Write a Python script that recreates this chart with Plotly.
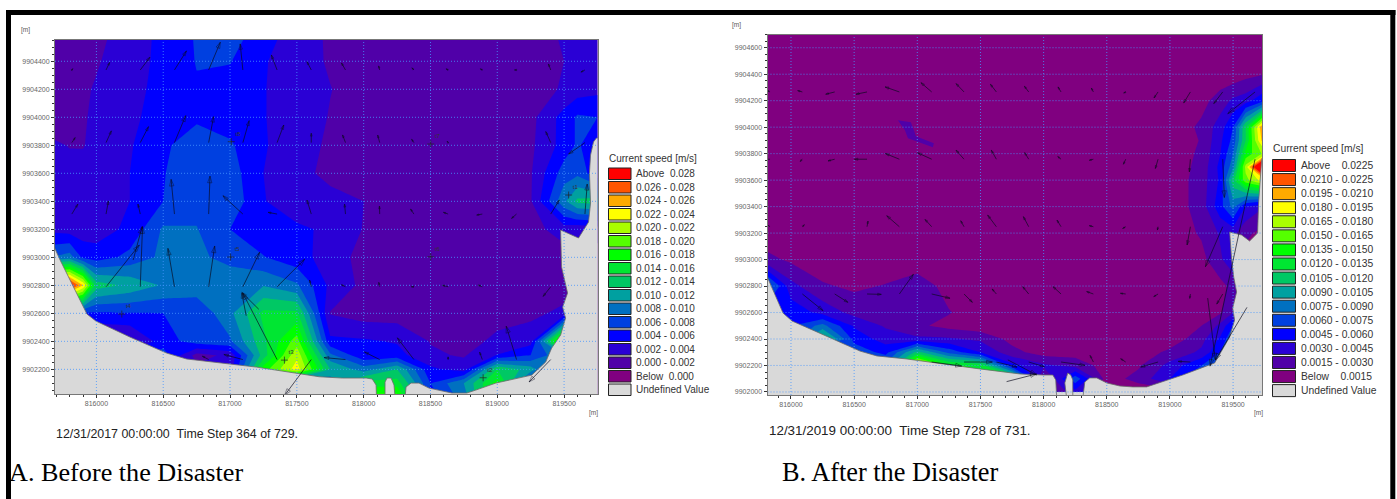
import numpy as np
import plotly.graph_objects as go

W, H = 1397, 499

# ---------- Panel A: speed grid, in 0.001 m/s ----------
a_x = [815650, 815800, 815900, 816000, 816250, 816500, 816750, 817000, 817250, 817500,
       817750, 818000, 818250, 818500, 818750, 819000, 819250, 819500, 819600, 819750]
a_y = [9902000, 9902100, 9902200, 9902300, 9902400, 9902600, 9902800, 9903000,
       9903200, 9903400, 9903600, 9903800, 9904000, 9904200, 9904400, 9904600]
a_z = [
    [5, 5, 5, 5, 5, 5, 5, 5, 5, 5, 5, 19, 19, 5, 9, 18, 5, 1, 1, 1],
    [5, 5, 5, 5, 5, 5, 5, 5, 5, 5, 8, 15, 15, 6, 10, 17, 5, 1, 1, 1],
    [5, 5, 5, 5, 5, 5, 2.5, 2.5, 17, 23, 12, 9, 12, 4.5, 3, 14, 11, 5, 1, 1],
    [5, 5, 5, 5, 5, 7, 1.2, 2.5, 13, 21.5, 8.5, 4.5, 4.8, 2.3, 1.8, 4.1, 6, 10, 1, 1],
    [1, 1, 1, 1, 1.5, 5, 7, 7.7, 13.5, 19, 4.5, 4.3, 3.8, 1.9, 1, 2.6, 3.2, 22, 1, 1],
    [5, 5, 5.5, 5.7, 5.9, 6, 6.4, 9.5, 14.5, 14.5, 1.9, 1, 1, 1, 1, 1, 1.5, 2.5, 1, 1],
    [30, 30, 24, 13, 11.5, 9.8, 9.2, 9.3, 9.9, 8.3, 3.5, 1.5, 1, 1, 1, 1, 1, 1, 1, 1],
    [8, 9, 5.5, 5, 6.6, 8.5, 8.4, 7.4, 6.1, 4.7, 3.2, 1.2, 1, 1, 1, 1, 1, 1, 1, 1],
    [3.5, 3, 2.9, 3, 4.5, 8.3, 8.1, 6, 4.8, 4.3, 3.7, 1.9, 1, 1, 1, 1, 1.2, 3, 2.5, 3],
    [3.5, 2.8, 2.7, 2.8, 4, 6, 7.3, 7.4, 4.1, 3, 2.6, 2, 1, 1, 1, 1.2, 1.8, 9.5, 12.5, 13],
    [4.2, 2.8, 2.7, 2.8, 4, 5.9, 7.2, 7, 4, 2.6, 1.5, 1, 1, 1, 1, 1.1, 1.8, 7, 7.5, 4.5],
    [2.4, 1.9, 1.9, 2.6, 3.8, 5.7, 6.9, 6.3, 4.2, 2.8, 1.7, 1.1, 1, 1, 1, 1, 1.6, 4.8, 6.3, 4.5],
    [1, 1.5, 1.8, 2.4, 3.4, 5.2, 5.7, 5, 4.1, 3, 1.9, 1.2, 1, 1, 1, 1, 1.4, 4.8, 6.3, 6],
    [1, 1.3, 1.7, 2.2, 3.3, 4.7, 5.8, 5.2, 4.1, 3, 2.05, 1.3, 1, 1, 1, 1, 1.2, 2.2, 3, 3.5],
    [1, 1, 1.3, 1.8, 3.2, 4.5, 6.1, 6.1, 4.2, 2.8, 1.8, 1, 1, 1, 1, 1, 1.2, 2, 2.4, 3],
    [1, 1, 1.2, 1.4, 3, 4.5, 6.2, 7, 5, 3, 1.7, 1, 1, 1, 1, 1, 1, 2.3, 2.6, 3.5],
]

a_land_x = [815650, 815650, 815728, 815929, 815996, 816250, 816526, 816675, 817198, 817668,
            817840, 818019, 818064, 818093, 818096, 818160, 818160, 818175, 818205, 818227,
            818235, 818310, 818317, 818355, 818414, 818489, 818660, 818772, 818839, 818989,
            819258, 819362, 819407, 819474, 819511, 819489, 819526, 819481, 819474, 819608,
            819683, 819698, 819690, 819698, 819720, 819742, 819800, 819800]
a_land_y = [9901950, 9903145, 9902981, 9902595, 9902545, 9902431, 9902316, 9902274, 9902216, 9902147,
            9902138, 9902138, 9902131, 9902088, 9902000, 9902000, 9902109, 9902138, 9902138, 9902088,
            9902000, 9902000, 9902074, 9902102, 9902102, 9902066, 9902031, 9902031, 9902052, 9902102,
            9902159, 9902252, 9902352, 9902445, 9902566, 9902645, 9902745, 9902931, 9903195, 9903138,
            9903252, 9903388, 9903602, 9903731, 9903824, 9903852, 9903852, 9901950]

# current vectors of panel A: regular mesh, (east, north) per row
a_arrow_x = [815816 + 256 * k for k in range(16)]
a_arrow_y = [9904338, 9903819, 9903309, 9902790, 9902270]
a_u = [
    [7, 27, 72, 90, 87, -20, -43, -32, -30, -8, -15, -15, -15, -15, -17, -30],
    [25, 40, 62, 84, 37, 47, 50, 0, -22, -15, -17, -7, 0, 0, -37, -122],
    [45, 18, -17, -25, 10, -149, -67, -32, -7, -2, -25, -35, -42, -37, 64, 17],
    [0, 249, 17, -49, 45, 125, 206, -13, -30, -7, -19, -42, -30, 0, -57, 0],
    [0, 0, 0, 0, -47, -142, -257, -199, -160, -114, -124, 0, -20, -77, -162, 0],
]
a_v = [
    [9, 54, 91, 136, 198, 186, 107, 59, 50, 29, 15, 8, 8, 0, 43, -15],
    [36, 84, 114, 193, 186, 157, 126, 67, 55, 54, 24, 10, 0, 0, 79, -81],
    [71, 93, 71, 248, 271, 131, 12, 100, 71, 57, 36, 12, -7, -31, 100, 214],
    [0, 298, 429, 274, 291, 246, 196, 48, 14, 31, 0, 10, 12, 0, -69, 0],
    [0, 0, 0, 0, 24, 36, 476, -255, 14, 54, 155, 19, 53, 238, -160, 0],
]
a_extra_x = [817121, 817215, 816275]
a_extra_y = [9902583, 9902629, 9902981]
a_extra_u = [-33, -127, 67]
a_extra_v = [160, 120, 238]

a_station_names = ["t1", "t2", "t3", "t4", "t5", "t6", "t7", "t8"]
a_station_x = [819534, 818894, 817407, 816190, 817004, 818502, 818502, 817009]
a_station_y = [9903445, 9902140, 9902266, 9902595, 9903002, 9903004, 9903809, 9903826]

# ---------- Panel B: speed grid, in 0.001 m/s ----------
b_x = [815800, 816000, 816250, 816500, 816750, 817000, 817250, 817500, 817750, 818000,
       818250, 818500, 818750, 819000, 819250, 819400, 819500, 819600, 819750]
b_y = [9902000, 9902100, 9902200, 9902300, 9902400, 9902500, 9902600, 9902800, 9903000, 9903200,
       9903400, 9903600, 9903700, 9903800, 9903900, 9904000, 9904200, 9904400, 9904600, 9904800]
b_z = [
    [.5, .5, .5, .5, .5, .5, .5, .5, .5, .5, 4, .5, .5, .5, .5, .5, .5, .5, .5],
    [5, 5, 5, 5, 5, 5, 14, 14, 14, 1, 7, .8, 2, 4.5, 8, 8, 1, 1, 1],
    [5, 5, 5, 5, 8, 20, 14, 13, 5, 3.3, 2.5, .8, 1.3, 3.5, 6, 7, 1, 1, 1],
    [5, 5, 5, 7, 5.5, 11, 7, 4.5, 2, .8, .8, .5, .5, 1.9, 3.3, 6, 7, 1, 1],
    [5, 6, 12, 5.5, 3.8, 3.3, 3.2, 2.7, 1, .5, .5, .5, .5, .5, 2.5, 4.8, 7.5, 1, 1],
    [5, 6, 8, 4.3, 2.8, 1.8, 1, .5, .5, .5, .5, .5, .5, .5, 1.5, 3.4, 6, 1, 1],
    [5, 5.5, 4, 2.5, 2.2, 2.2, 1.6, .7, .5, .5, .5, .5, .5, .5, .5, 1.3, 3, 1, 1],
    [9, 3.5, 1.7, 1.2, 1.6, 2.4, .9, .5, .5, .5, .5, .5, .5, .5, .5, 1, 2, 1, 1],
    [2, 1.2, .5, .5, .5, .5, .5, .5, .5, .5, .5, .5, .5, .5, 1, 2.8, 4, 1, 1],
    [.5, .5, .5, .5, .5, .5, .5, .5, .5, .5, .5, .5, .5, .5, 1.7, 3.2, 3.5, 1.8, 1],
    [.5, .5, .5, .5, .5, .5, .5, .5, .5, .5, .5, .5, .5, .5, 2.2, 5.5, 8, 4.5, 3],
    [.5, .5, .5, .5, .5, .5, .5, .5, .5, .5, .5, .5, .5, .5, 2.2, 4.8, 11.5, 16, 19],
    [.5, .5, .5, .5, .5, .5, .5, .5, .5, .5, .5, .5, .5, .5, 2, 5, 8.5, 17, 30],
    [.5, .5, .5, .5, .5, .5, .5, .5, .5, .5, .5, .5, .5, .5, 1.8, 4.5, 7.5, 14, 17],
    [.5, .5, .5, .5, .5, .5, .5, .5, .5, .5, .5, .5, .5, .5, 1.6, 4.2, 6.5, 12, 21],
    [.5, .5, .5, .5, .5, .5, .5, .5, .5, .5, .5, .5, .5, .5, 1.8, 3.8, 6, 12, 22],
    [.5, .5, .5, .5, .5, .5, .5, .5, .5, .5, .5, .5, .5, .5, 1, 2.2, 3.3, 3.8, 6],
    [.5, .5, .5, .5, .5, .5, .5, .5, .5, .5, .5, .5, .5, .5, .5, .5, .5, 1, 1.5],
    [.5, .5, .5, .5, .5, .5, .5, .5, .5, .5, .5, .5, .5, .5, .5, .5, .5, .5, .5],
    [.5, .5, .5, .5, .5, .5, .5, .5, .5, .5, .5, .5, .5, .5, .5, .5, .5, .5, .5],
]

b_land_x = [815700, 815816, 815937, 816008, 816206, 816546, 816680, 816918, 817495, 817812,
            817994, 818073, 818096, 818104, 818183, 818168, 818191, 818215, 818231, 818231,
            818310, 818326, 818365, 818421, 818500, 818603, 818706, 818816, 819101, 819354,
            819473, 819512, 819497, 819528, 819505, 819489, 819473, 819568, 819631, 819694,
            819702, 819726, 819750, 819800, 819800, 815700]
b_land_y = [9902860, 9902860, 9902596, 9902536, 9902453, 9902309, 9902272, 9902249, 9902174, 9902136,
            9902128, 9902128, 9902091, 9901950, 9901950, 9902068, 9902143, 9902128, 9902091, 9901950,
            9901950, 9902075, 9902106, 9902106, 9902068, 9902045, 9902038, 9902038, 9902128, 9902219,
            9902415, 9902543, 9902634, 9902755, 9902868, 9902996, 9903208, 9903185, 9903140, 9903200,
            9903426, 9903751, 9903826, 9903826, 9901900, 9901900]

b_patch_x = [816846, 816949, 816973, 816989, 817131, 817123, 816926, 816902]
b_patch_y = [9904053, 9904038, 9903977, 9903932, 9903879, 9903849, 9903917, 9903977]

b_arrow_x = [815834 + 256 * k for k in range(16)]
b_arrow_y = [9904266, 9903758, 9903248, 9902740, 9902226]
b_u = [
    [-26, -37, -71, -87, -113, -85, -63, -47, -34, -24, -16, -16, -32, -53, -71, -216],
    [-47, -18, -53, -100, -111, -111, -63, -40, -32, -26, -32, -18, -21, -8, 13, -356],
    [-40, 16, 0, 8, -100, -53, -26, -69, -42, -32, -32, -24, -5, -26, -137, 0],
    [0, 164, 105, 113, 111, 145, 66, -34, -47, -63, -53, -42, -34, -5, -47, 0],
    [0, 0, 0, 0, 0, 237, 224, 164, 124, 190, -26, -40, -137, -97, 0, 0],
]
b_v = [
    [13, 10, -17, -17, 38, 70, 63, 58, 43, 38, 30, -8, -45, -83, -88, -164],
    [0, -17, -13, 0, 43, 48, 68, 68, 50, 20, -8, -38, -70, -96, -289, -1563],
    [30, 15, 0, 43, 83, 55, 45, 88, 76, 50, 8, -13, -25, -138, -302, 0],
    [0, -126, -63, -3, 149, -32, -63, 38, 55, 55, 18, 5, -20, -33, -76, 0],
    [0, 0, 0, 0, 0, -30, 0, -38, -35, -25, 50, 25, -38, 5, 0, 0],
]
b_extra_x = [819610, 819299, 817707, 817717]
b_extra_y = [9902639, 9902709, 9902078, 9902242]
b_extra_u = [-250, 61, 237, 227]
b_extra_v = [-398, -467, 58, -113]

# ---------- Legends ----------
band_colors = ["#800080", "#5000A8", "#2A00D5", "#0000FF", "#0040E0", "#0070C0", "#00A0A0", "#00C864",
               "#00E632", "#00FF00", "#55FF00", "#AAFF00", "#FFFF00", "#FFAA00", "#FF5500", "#FF0000"]
a_labels = ["Above\u00a0\u00a00.028", "0.026 - 0.028", "0.024 - 0.026", "0.022 - 0.024", "0.020 - 0.022",
            "0.018 - 0.020", "0.016 - 0.018", "0.014 - 0.016", "0.012 - 0.014", "0.010 - 0.012",
            "0.008 - 0.010", "0.006 - 0.008", "0.004 - 0.006", "0.002 - 0.004", "0.000 - 0.002",
            "Below\u00a0\u00a00.000", "Undefined Value"]
b_labels = ["Above\u00a0\u00a0\u00a0\u00a00.0225", "0.0210 - 0.0225", "0.0195 - 0.0210", "0.0180 - 0.0195", "0.0165 - 0.0180",
            "0.0150 - 0.0165", "0.0135 - 0.0150", "0.0120 - 0.0135", "0.0105 - 0.0120", "0.0090 - 0.0105",
            "0.0075 - 0.0090", "0.0060 - 0.0075", "0.0045 - 0.0060", "0.0030 - 0.0045", "0.0015 - 0.0030",
            "Below\u00a0\u00a0\u00a0\u00a00.0015", "Undefined Value"]
LAND = "#D9D9D9"
ARROW = "rgba(10,10,30,0.85)"


def step_scale(colors):
    n = len(colors)
    out = []
    for i, c in enumerate(colors):
        out.append([i / n, c])
        out.append([(i + 1) / n, c])
    return out


def px(x):
    return x / W


def py(y):
    return 1 - y / H


def grid_lines(ticks, lo, hi):
    a, b = [], []
    for t in ticks:
        a += [t, t, None]
        b += [lo, hi, None]
    return a, b


def arrow_xy(xs, ys, us, vs, ex, ey, eu, ev, mx, my):
    X, Y, S = [], [], []
    def add(x, y, u, v):
        if u == 0 and v == 0:
            return
        X.extend([x, x + u, None])
        Y.extend([y, y + v, None])
        length = ((u / mx) ** 2 + (v / my) ** 2) ** 0.5
        S.extend([0, float(np.clip(1.5 + 0.16 * length, 2.2, 7)), 0])
    for j, y in enumerate(ys):
        for i, x in enumerate(xs):
            add(x, y, us[j][i], vs[j][i])
    for x, y, u, v in zip(ex, ey, eu, ev):
        add(x, y, u, v)
    return X, Y, S


fig = go.Figure()

panels = [
    dict(xa="x", ya="y", x=a_x, y=a_y, z=a_z, start=0, end=28, size=2, zmin=-2, zmax=30,
         lx=a_land_x, ly=a_land_y, xr=[815690, 819750], yr=[9902024, 9904552],
         xt=list(range(816000, 820000, 500)), yt=list(range(9902200, 9904600, 200)),
         arrows=arrow_xy(a_arrow_x, a_arrow_y, a_u, a_v, a_extra_x, a_extra_y, a_extra_u, a_extra_v, 7.463, 7.143)),
    dict(xa="x2", ya="y2", x=b_x, y=b_y, z=b_z, start=1.5, end=22.5, size=1.5, zmin=0, zmax=24,
         lx=b_land_x, ly=b_land_y, xr=[815814, 819729], yr=[9901977, 9904700],
         xt=list(range(816000, 820000, 500)), yt=list(range(9902000, 9904800, 200)),
         arrows=arrow_xy(b_arrow_x, b_arrow_y, b_u, b_v, b_extra_x, b_extra_y, b_extra_u, b_extra_v, 7.911, 7.547)),
]

for p in panels:
    fig.add_trace(go.Contour(
        x=p["x"], y=p["y"], z=p["z"], xaxis=p["xa"], yaxis=p["ya"],
        zmin=p["zmin"], zmax=p["zmax"], colorscale=step_scale(band_colors), showscale=False,
        contours=dict(start=p["start"], end=p["end"], size=p["size"], coloring="fill", showlines=False),
        line=dict(width=0, smoothing=0), hoverinfo="skip"))
    if p["xa"] == "x2":
        fig.add_trace(go.Scatter(x=b_patch_x, y=b_patch_y, xaxis="x2", yaxis="y2", mode="lines", fill="toself",
                                 fillcolor=band_colors[1], line=dict(width=0), showlegend=False, hoverinfo="skip"))
    fig.add_trace(go.Scatter(x=p["lx"], y=p["ly"], xaxis=p["xa"], yaxis=p["ya"], mode="lines", fill="toself",
                             fillcolor=LAND, line=dict(color="#6a6a6a", width=0.8),
                             showlegend=False, hoverinfo="skip"))
    for ticks, other, is_x in ((p["xt"], p["yr"], True), (p["yt"], p["xr"], False)):
        a, b = grid_lines(ticks, other[0], other[1])
        gx, gy = (a, b) if is_x else (b, a)
        fig.add_trace(go.Scatter(x=gx, y=gy, xaxis=p["xa"], yaxis=p["ya"], mode="lines",
                                 line=dict(color="rgba(70,150,255,0.8)", width=1, dash="1px,2px"),
                                 showlegend=False, hoverinfo="skip"))
    X, Y, S = p["arrows"]
    fig.add_trace(go.Scatter(x=X, y=Y, xaxis=p["xa"], yaxis=p["ya"], mode="lines+markers",
                             line=dict(color=ARROW, width=0.8),
                             marker=dict(symbol="arrow-open", size=S, angleref="previous",
                                         color=ARROW, line=dict(color=ARROW, width=0.7)),
                             showlegend=False, hoverinfo="skip"))

fig.add_trace(go.Scatter(x=a_station_x, y=a_station_y, text=a_station_names, mode="markers+text",
                         textposition="top right", textfont=dict(size=6, color="#333", family="Liberation Sans"),
                         marker=dict(symbol="cross-thin", size=5, line=dict(color="#222", width=0.7)),
                         showlegend=False, hoverinfo="skip"))

axis_style = dict(showgrid=False, zeroline=False, showline=True, linecolor="#777", linewidth=1, mirror=True,
                  ticks="outside", ticklen=3, tickcolor="#333", tickwidth=1, tickformat="d",
                  tickfont=dict(size=7, color="#666", family="Liberation Sans"))

shapes, notes = [], []


def legend(x0, x1, y0, dy, h, tx, tys, labels, size):
    fills = band_colors[::-1] + [LAND]
    for i, (c, lab) in enumerate(zip(fills, labels)):
        shapes.append(dict(type="rect", xref="paper", yref="paper", x0=px(x0), x1=px(x1),
                           y0=py(y0 + i * dy), y1=py(y0 + i * dy + h), fillcolor=c,
                           line=dict(color="#222", width=1)))
        notes.append(dict(xref="paper", yref="paper", x=px(tx), y=py(y0 + i * dy + h / 2), text=lab,
                          showarrow=False, xanchor="left", yanchor="middle",
                          font=dict(size=size, color="#333", family="Liberation Sans")))
    notes.append(dict(xref="paper", yref="paper", x=px(x0 - 2), y=py(tys), text="Current speed [m/s]",
                      showarrow=False, xanchor="left", yanchor="middle",
                      font=dict(size=size, color="#333", family="Liberation Sans")))


legend(608.5, 631, 168, 13.5, 11.5, 634, 158, a_labels, 10)
legend(1272.5, 1295.5, 159.5, 14.07, 12, 1299, 149, b_labels, 10.3)


def note(x, y, text, size, family="Liberation Sans", color="#222"):
    notes.append(dict(xref="paper", yref="paper", x=px(x), y=py(y), text=text, showarrow=False,
                      xanchor="left", yanchor="middle", font=dict(size=size, color=color, family=family)))


note(19, 30, "[m]", 6.5, color="#555")
note(587, 413, "[m]", 6.5, color="#555")
note(730, 25, "[m]", 6.5, color="#555")
note(1252, 413, "[m]", 6.5, color="#555")
note(54, 434, "12/31/2017 00:00:00\u00a0\u00a0Time Step 364 of 729.", 12.4)
note(767, 430, "12/31/2019 00:00:00\u00a0\u00a0Time Step 728 of 731.", 13.4)
note(7, 472, "A. Before the Disaster", 26.2, "Liberation Serif", "#000")
note(780, 472, "B. After the Disaster", 26.3, "Liberation Serif", "#000")

for x0, y0, x1, y1 in ((6, 10, 11, 499), (6, 10, 1395.5, 15), (1390.3, 10, 1395.3, 499)):
    shapes.append(dict(type="rect", xref="paper", yref="paper", x0=px(x0), x1=px(x1), y0=py(y0), y1=py(y1),
                       fillcolor="#000", line=dict(width=0)))

fig.update_layout(
    width=W, height=H, margin=dict(l=0, r=0, t=0, b=0), paper_bgcolor="white", plot_bgcolor=LAND,
    showlegend=False, shapes=shapes, annotations=notes,
    xaxis=dict(domain=[px(55), px(597.5)], range=panels[0]["xr"], anchor="y", dtick=500, tick0=816000,
               minor=dict(dtick=100, ticks="outside", ticklen=2, tickcolor="#333"), **axis_style),
    yaxis=dict(domain=[py(394), py(40)], range=panels[0]["yr"], anchor="x", dtick=200, tick0=9902000,
               minor=dict(dtick=50, ticks="outside", ticklen=2, tickcolor="#333"), **axis_style),
    xaxis2=dict(domain=[px(767.5), px(1262)], range=panels[1]["xr"], anchor="y2", dtick=500, tick0=816000,
                minor=dict(dtick=100, ticks="outside", ticklen=2, tickcolor="#333"), **axis_style),
    yaxis2=dict(domain=[py(395), py(34.5)], range=panels[1]["yr"], anchor="x2", dtick=200, tick0=9902000,
                minor=dict(dtick=50, ticks="outside", ticklen=2, tickcolor="#333"), **axis_style),
)

fig.write_html("out.html", post_script="document.body.style.margin='0';", config={"displayModeBar": False})
